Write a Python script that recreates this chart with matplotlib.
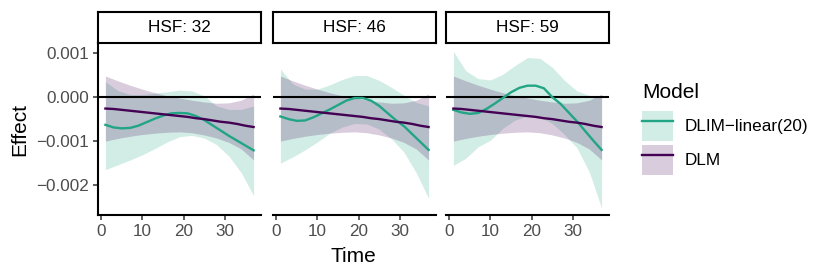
import numpy as np
import matplotlib
matplotlib.use('Agg')
from matplotlib import pyplot as plt
from matplotlib.patches import Patch
from matplotlib.lines import Line2D
from matplotlib.ticker import FuncFormatter

# time lags the ribbons were read at
time_pts = [1, 4, 7, 10, 13, 16, 19, 22, 25, 28, 31, 34, 37]
# finer time lags for the estimate lines
time_line = [1, 3, 5, 7, 9, 11, 13, 15, 17, 19, 21, 23, 25, 27, 29, 31, 33, 35, 37]
hsf_levels = [32, 46, 59]
model_names = ['DLIM\u2212linear(20)', 'DLM']

# DLM estimate (same in every panel)
dlm_mean = [-0.00026, -0.00027, -0.00029, -0.00031, -0.00033, -0.00035, -0.00037,
            -0.00039, -0.00041, -0.00043, -0.00045, -0.00048, -0.00050, -0.00053,
            -0.00056, -0.00058, -0.00061, -0.00065, -0.00068]
dlm_low = [-0.00100, -0.00094, -0.00089, -0.00085, -0.00082, -0.00080, -0.00079,
           -0.00081, -0.00086, -0.00093, -0.00103, -0.00118, -0.00143]
dlm_high = [0.00048, 0.00037, 0.00027, 0.00018, 0.00010, 0.00003, -0.00002,
            -0.00007, -0.00011, -0.00014, -0.00013, -0.00007, 0.00007]

# DLIM-linear(20), HSF = 32
dlim_mean_32 = [-0.00063, -0.00069, -0.00071, -0.00070, -0.00065, -0.00057, -0.00049,
                -0.00042, -0.00037, -0.00036, -0.00037, -0.00043, -0.00052, -0.00064,
                -0.00076, -0.00088, -0.00099, -0.00110, -0.00121]
dlim_low_32 = [-0.00165, -0.00154, -0.00143, -0.00131, -0.00117, -0.00102, -0.00090,
               -0.00087, -0.00093, -0.00108, -0.00134, -0.00172, -0.00224]
dlim_high_32 = [0.00035, 0.00015, 0.00006, 0.00006, 0.00009, 0.00012, 0.00016,
                0.00014, 0.00003, -0.00020, -0.00028, -0.00028, -0.00020]

# DLIM-linear(20), HSF = 46
dlim_mean_46 = [-0.00044, -0.00050, -0.00054, -0.00053, -0.00046, -0.00037, -0.00028,
                -0.00018, -0.00008, -0.00002, -0.00002, -0.00008, -0.00020, -0.00036,
                -0.00052, -0.00066, -0.00084, -0.00102, -0.00120]
dlim_low_46 = [-0.00150, -0.00136, -0.00120, -0.00102, -0.00082, -0.00068, -0.00060,
               -0.00061, -0.00073, -0.00095, -0.00125, -0.00172, -0.00230]
dlim_high_46 = [0.00064, 0.00030, 0.00018, 0.00018, 0.00028, 0.00040, 0.00049,
                0.00049, 0.00038, 0.00022, 0.00004, -0.00012, -0.00020]

# DLIM-linear(20), HSF = 59
dlim_mean_59 = [-0.00029, -0.00035, -0.00038, -0.00036, -0.00027, -0.00015, -0.00002,
                0.00011, 0.00021, 0.00026, 0.00026, 0.00020, 0.00000, -0.00015,
                -0.00035, -0.00055, -0.00077, -0.00099, -0.00120]
dlim_low_59 = [-0.00155, -0.00139, -0.00113, -0.00098, -0.00071, -0.00052, -0.00043,
               -0.00045, -0.00060, -0.00085, -0.00115, -0.00170, -0.00252]
dlim_high_59 = [0.00104, 0.00060, 0.00042, 0.00039, 0.00052, 0.00072, 0.00090,
                0.00088, 0.00068, 0.00038, 0.00014, 0.00004, 0.00002]

dlim_mean = [dlim_mean_32, dlim_mean_46, dlim_mean_59]
dlim_low = [dlim_low_32, dlim_low_46, dlim_low_59]
dlim_high = [dlim_high_32, dlim_high_46, dlim_high_59]

teal = '#21A585'
purple = '#440154'
tick_grey = '#4D4D4D'

plt.rcParams['font.family'] = ['Liberation Sans', 'DejaVu Sans']
plt.rcParams['axes.unicode_minus'] = True

W, H = 830.0, 277.0
fig = plt.figure(figsize=(8.3, 2.77), dpi=100)

panel_left = [98, 273, 446]   # pixel x of each panel
panel_w = 163
panel_top, panel_bot = 43, 215
strip_top = 12


def effect_fmt(v, pos):
    s = '%.3f' % v
    if s == '-0.000':
        s = '0.000'
    return s.replace('-', '\u2212')


for k in range(3):
    ax = fig.add_axes([panel_left[k] / W, (H - panel_bot) / H,
                       panel_w / W, (panel_bot - panel_top) / H])
    ax.fill_between(time_pts, dlim_low[k], dlim_high[k], color=teal, alpha=0.2, lw=0)
    ax.fill_between(time_pts, dlm_low, dlm_high, color=purple, alpha=0.2, lw=0)
    ax.axhline(0, color='black', lw=1.5)
    ax.plot(time_line, dlim_mean[k], color=teal, lw=1.7, solid_joinstyle='round')
    ax.plot(time_line, dlm_mean, color=purple, lw=1.7, solid_joinstyle='round')

    ax.set_xlim(-0.8, 38.8)
    ax.set_ylim(-0.00268, 0.00123)
    ax.set_xticks([0, 10, 20, 30])
    ax.set_yticks([0.001, 0.0, -0.001, -0.002])
    ax.yaxis.set_major_formatter(FuncFormatter(effect_fmt))
    for s in ['top', 'right']:
        ax.spines[s].set_visible(False)
    ax.spines['bottom'].set_linewidth(1.5)
    ax.spines['left'].set_linewidth(1.5)
    ax.tick_params(axis='both', length=3.5, width=1.1, color='#333333',
                   labelsize=12.3, labelcolor=tick_grey, pad=2.8)
    if k > 0:
        ax.spines['left'].set_visible(False)
        ax.tick_params(axis='y', left=False, labelleft=False)

    # facet strip
    sax = fig.add_axes([panel_left[k] / W, (H - panel_top) / H,
                        panel_w / W, (panel_top - strip_top) / H])
    sax.set_xticks([])
    sax.set_yticks([])
    for s in sax.spines.values():
        s.set_linewidth(1.5)
    sax.text(0.5, 0.5, 'HSF: ' + str(hsf_levels[k]), ha='center', va='center',
             fontsize=12.3, transform=sax.transAxes)

fig.text(20 / W, 1 - 129 / H, 'Effect', rotation=90, ha='center', va='center', fontsize=15)
fig.text(353.5 / W, 1 - 262 / H, 'Time', ha='center', va='baseline', fontsize=15)

# legend: title placed by hand, keys underneath
fig.text(642 / W, 1 - 98 / H, 'Model', ha='left', va='baseline', fontsize=15)
handles = [(Patch(facecolor=teal, alpha=0.2, lw=0), Line2D([], [], color=teal, lw=1.7)),
           (Patch(facecolor=purple, alpha=0.2, lw=0), Line2D([], [], color=purple, lw=1.7))]
fig.legend(handles, model_names, loc='upper left',
           bbox_to_anchor=(642 / W, 1 - 111 / H), frameon=False,
           handlelength=1.8, handleheight=2.34, handletextpad=0.7,
           labelspacing=0.22, borderpad=0, borderaxespad=0,
           fontsize=12.3)

plt.savefig('out.png', dpi=100)
plt.close()
